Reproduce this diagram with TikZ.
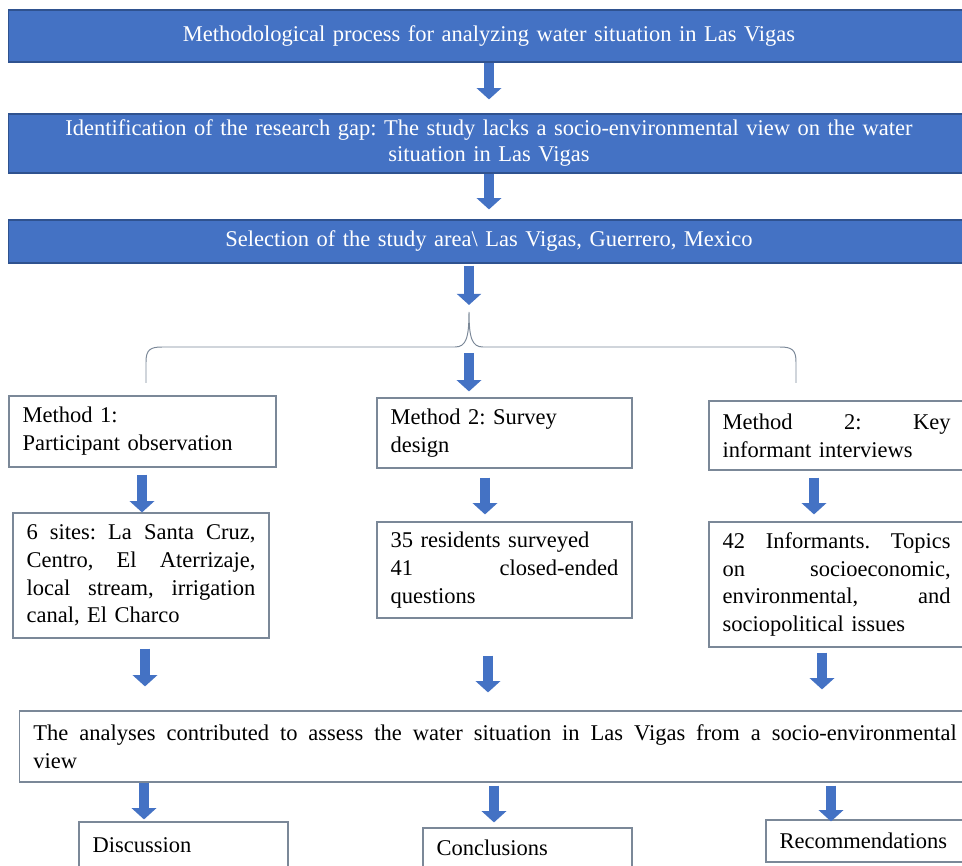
\documentclass[tikz,border=0pt]{standalone}
\usepackage{fontspec}
\setmainfont{Liberation Serif}
\usetikzlibrary{arrows.meta}
\definecolor{bannerblue}{HTML}{4472C4}
\definecolor{bannerline}{HTML}{2F528F}
\definecolor{boxline}{HTML}{7B8898}
\newcommand{\jline}[2]{\makebox[#1][s]{\spaceskip=.25em plus 1fil\xspaceskip=\spaceskip\relax #2}}
\begin{document}
\frenchspacing
\begin{tikzpicture}[
        x=0.025cm, y=-0.025cm,
        banner/.style={rectangle, draw=bannerline, fill=bannerblue, text=white, line width=0.8pt,
            minimum width=24cm, text width=22.5cm, align=center, inner sep=0pt,
            font=\fontsize{16}{18.5}\selectfont\frenchspacing},
        box/.style={rectangle, draw=boxline, line width=0.8pt, align=left, inner xsep=0.34cm, inner ysep=0pt,
            font=\fontsize{16}{19.8}\selectfont\frenchspacing},
        flow/.style={draw=bannerblue, line width=0.23cm, -{Triangle[length=0.28cm, width=0.6cm]}},
        brace/.style={draw=boxline, line width=0.7pt}
    ]
        \useasboundingbox (0,0) rectangle (962,866);

        % Banners
        \node[banner, minimum height=1.3cm] (B1) at (489,36)
            {Methodological process for analyzing water situation in Las Vigas};
        \node[banner, minimum height=1.475cm] (B2) at (489,143.5)
            {Identification of the research gap: The study lacks a socio-environmental view on the water\\situation in Las Vigas};
        \node[banner, minimum height=1.075cm] (B3) at (489,241.5)
            {Selection of the study area\textbackslash\ Las Vigas, Guerrero, Mexico};

        % Brace
        \coordinate (Btop) at (469,312);
        \coordinate (Bmid) at (469,347);
        \draw[brace] (146,383) -- (146,362) .. controls (146,350) and (150,347) .. (162,347) -- (455,347)
            .. controls (466,347) and (469,338) .. (Btop)
            .. controls (469,338) and (472,347) .. (483,347) -- (780,347)
            .. controls (792,347) and (796,350) .. (796,362) -- (796,383);

        % Methods
        \node[box, minimum width=6.675cm, text width=5.995cm, minimum height=1.775cm] (M1) at (142.5,431.5)
            {Method 1:\\Participant observation};
        \node[box, minimum width=6.375cm, text width=5.695cm, minimum height=1.75cm] (M2) at (504.5,433)
            {Method 2: Survey\\design};
        \node[box, minimum width=6.775cm, text width=6.095cm, minimum height=1.725cm] (M3) at (844.5,435.5)
            {\jline{5.7cm}{Method 2: Key}\\informant interviews};

        % Details
        \node[box, minimum width=6.4cm, text width=5.72cm, minimum height=3.125cm] (S1) at (141,575.5)
            {\jline{5.72cm}{6 sites: La Santa Cruz,}\\\jline{5.72cm}{Centro, El Aterrizaje,}\\\jline{5.72cm}{local stream, irrigation}\\canal, El Charco};
        \node[box, minimum width=6.375cm, text width=5.695cm, minimum height=2.4cm] (S2) at (504.5,570)
            {35 residents surveyed\\\jline{5.695cm}{41 closed-ended}\\questions};
        \node[box, minimum width=6.775cm, text width=6.095cm, minimum height=3.125cm] (S3) at (844.5,584.5)
            {\jline{5.7cm}{42 Informants. Topics}\\\jline{5.7cm}{on socioeconomic,}\\\jline{5.7cm}{environmental, and}\\sociopolitical issues};

        % Analyses
        \node[box, minimum width=24cm, text width=23.32cm, minimum height=1.775cm] (An) at (500,746.5)
            {\jline{23.075cm}{The analyses contributed to assess the water situation in Las Vigas from a socio-environmental}\\view};

        % Results
        \node[box, minimum width=5.225cm, text width=4.545cm, minimum height=1.15cm] (D) at (183.5,845) {Discussion};
        \node[box, minimum width=5.225cm, text width=4.545cm, minimum height=1cm] (C) at (527.5,848) {Conclusions};
        \node[box, minimum width=5.35cm, text width=4.67cm, minimum height=1.05cm] (R) at (873,841) {Recommendations};

        % Arrows
        \draw[flow, shorten >=0.35cm] (B1) -- (B2);
        \draw[flow, shorten >=0.25cm] (B2) -- (B3);
        \draw[flow, shorten <=0.05cm, shorten >=0.175cm] (469,0 |- B3.south) -- (Btop);
        \draw[flow, shorten <=0.15cm, shorten >=0.15cm] (Bmid) -- (469,0 |- M2.north);
        \foreach \x/\a/\b/\s/\e in {142/M1/S1/0.175/0, 485/M2/S2/0.225/0.175, 814/M3/S3/0.175/0.175,
                145/S1/An/0.25/0.6, 488/S2/An/0.925/0.45, 822/S3/An/0.125/0.525,
                144/An/D/0/0.05, 494/An/C/0.075/0.125, 831/An/R/0.075/-0.05}
            \draw[flow, shorten <=\s cm, shorten >=\e cm] (\x,0 |- \a.south) -- (\x,0 |- \b.north);

\end{tikzpicture}
\end{document}
